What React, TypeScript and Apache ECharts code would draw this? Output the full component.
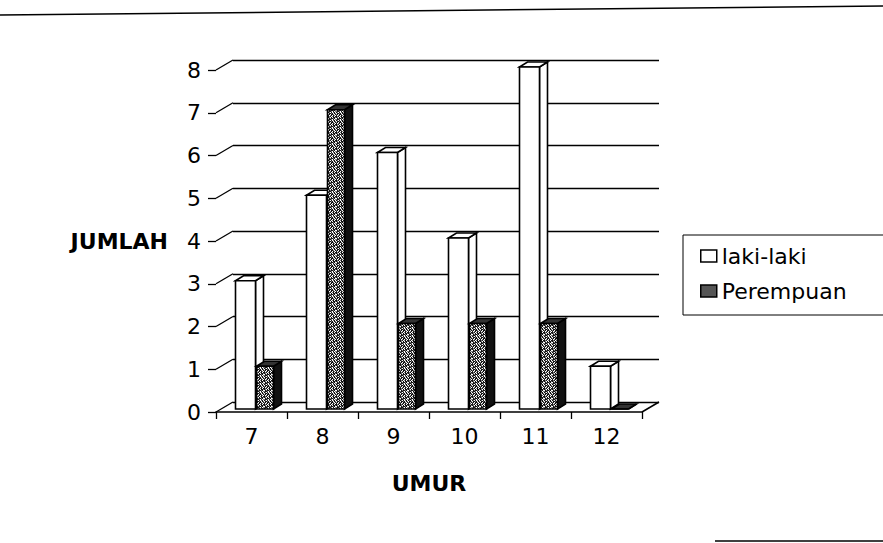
import React, { useEffect, useRef } from "react";
import * as echarts from "echarts";

const CATEGORIES = ["7", "8", "9", "10", "11", "12"];
const LAKI = [3, 5, 6, 4, 8, 1];
const PEREMPUAN = [1, 7, 2, 2, 2, 0];
const Y_TICKS = [0, 1, 2, 3, 4, 5, 6, 7, 8];
const SERIES_NAMES = ["laki-laki", "Perempuan"];
const X_TITLE = "UMUR";
const Y_TITLE = "JUMLAH";

const FONT = "DejaVu Sans";
const DX = 17; // wall depth
const DY = -10;
const BDX = 8; // bar depth
const BDY = -5;
const SHIFT_Y = -3;

function makePattern() {
  const rows = [
    "12010210",
    "01121012",
    "21011201",
    "10210120",
    "12102101",
    "12010112",
    "01211210",
    "21120102",
  ];
  const c = document.createElement("canvas");
  c.width = 8;
  c.height = 8;
  const ctx = c.getContext("2d")!;
  const cols: Record<string, string> = { "0": "#ffffff", "1": "#111111", "2": "#777777" };
  rows.forEach((r, y) => {
    r.split("").forEach((ch, x) => {
      ctx.fillStyle = cols[ch];
      ctx.fillRect(x, y, 1, 1);
    });
  });
  return { image: c.toDataURL(), repeat: "repeat", imageWidth: 8, imageHeight: 8 } as any;
}

export default function App() {
  const ref = useRef<HTMLDivElement>(null);
  useEffect(() => {
    if (!ref.current) return;
    const chart = echarts.init(ref.current, undefined, { renderer: "svg" });
    const pattern = makePattern();

    const barRender = (kind: number) => (params: any, api: any) => {
      const i = api.value(0);
      const v = api.value(1);
      const base = api.coord([i, 0]);
      const top = api.coord([i, v]);
      const cx = base[0];
      const x0 = kind === 0 ? cx - 16 : cx + 5;
      const w = kind === 0 ? 20 : 17;
      const yb = base[1] + SHIFT_Y;
      const yt = top[1] + SHIFT_Y;
      const frontFill = kind === 0 ? "#ffffff" : pattern;
      const sideFill = kind === 0 ? "#ffffff" : "#111111";
      const topFill = kind === 0 ? "#ffffff" : "#333333";
      const stroke = { stroke: "#000", lineWidth: 1.6, lineJoin: "miter" };
      return {
        type: "group",
        children: [
          {
            type: "polygon",
            shape: {
              points: [
                [x0 + w, yt],
                [x0 + w + BDX, yt + BDY],
                [x0 + w + BDX, yb + BDY],
                [x0 + w, yb],
              ],
            },
            style: { fill: sideFill, ...stroke },
          },
          {
            type: "polygon",
            shape: {
              points: [
                [x0, yt],
                [x0 + BDX, yt + BDY],
                [x0 + w + BDX, yt + BDY],
                [x0 + w, yt],
              ],
            },
            style: { fill: topFill, ...stroke },
          },
          {
            type: "rect",
            shape: { x: x0, y: yt, width: w, height: yb - yt },
            style: { fill: frontFill, ...stroke },
          },
        ],
      };
    };

    chart.setOption({
      animation: false,
      backgroundColor: "#ffffff",
      textStyle: { fontFamily: FONT, color: "#000" },
      grid: [
        { left: 216, top: 70, width: 426, height: 342 },
        { left: 216 + DX, top: 70 + DY, width: 426, height: 342 },
      ],
      xAxis: [
        {
          type: "category",
          gridIndex: 0,
          data: CATEGORIES,
          boundaryGap: true,
          axisLine: { lineStyle: { color: "#000", width: 1.6 } },
          axisTick: { show: true, length: 7, lineStyle: { color: "#000", width: 1.3 } },
          axisLabel: { fontSize: 22, color: "#000", margin: 13, fontFamily: FONT },
          name: X_TITLE,
          nameLocation: "middle",
          nameGap: 60,
          nameTextStyle: { fontSize: 22, fontWeight: "bold", color: "#000", fontFamily: FONT },
        },
        {
          type: "category",
          gridIndex: 1,
          data: CATEGORIES,
          show: false,
        },
      ],
      yAxis: [
        {
          type: "value",
          gridIndex: 0,
          min: 0,
          max: 8,
          interval: 1,
          axisLine: { show: false },
          axisTick: { show: true, length: 8, lineStyle: { color: "#000", width: 1.3 } },
          splitLine: { show: false },
          axisLabel: { fontSize: 22, color: "#000", margin: 15, fontFamily: FONT },
          name: Y_TITLE,
          nameLocation: "middle",
          nameRotate: 0,
          nameGap: 48,
          nameTextStyle: {
            fontSize: 22,
            fontWeight: "bold",
            color: "#000",
            align: "right",
            verticalAlign: "middle",
            fontFamily: FONT,
          },
        },
        {
          type: "value",
          gridIndex: 1,
          min: 0,
          max: 8,
          interval: 1,
          axisLine: { show: false },
          axisTick: { show: false },
          axisLabel: { show: false },
          splitLine: { show: true, lineStyle: { color: "#000", width: 1.3 } },
        },
      ],
      legend: {
        orient: "vertical",
        left: 683,
        top: 235,
        padding: [10, 60, 13, 17],
        itemWidth: 16,
        itemHeight: 12,
        itemGap: 13,
        borderColor: "#000",
        borderWidth: 1,
        borderRadius: 0,
        backgroundColor: "#fff",
        selectedMode: false,
        textStyle: { fontSize: 22, color: "#000", fontFamily: FONT },
        data: [
          {
            name: SERIES_NAMES[0],
            icon: "rect",
            itemStyle: { color: "#fff", borderColor: "#000", borderWidth: 1.5 },
          },
          {
            name: SERIES_NAMES[1],
            icon: "rect",
            itemStyle: { color: "#555", borderColor: "#000", borderWidth: 1.5 },
          },
        ],
      },
      series: [
        {
          type: "custom",
          name: "wall-edges",
          xAxisIndex: 0,
          yAxisIndex: 0,
          silent: true,
          z: 1,
          data: Y_TICKS.map((v) => [0, v]),
          encode: { x: 0, y: 1 },
          renderItem: (params: any, api: any) => {
            const p = api.coord([0, api.value(1)]);
            const x0 = params.coordSys.x;
            return {
              type: "line",
              shape: { x1: x0, y1: p[1], x2: x0 + DX, y2: p[1] + DY },
              style: { stroke: "#000", lineWidth: 1.3 },
            };
          },
        },
        {
          type: "custom",
          name: "floor-edge",
          xAxisIndex: 0,
          yAxisIndex: 0,
          silent: true,
          z: 1,
          data: [[CATEGORIES.length - 1, 0]],
          encode: { x: 0, y: 1 },
          renderItem: (params: any, api: any) => {
            const p = api.coord([api.value(0), 0]);
            const x1 = params.coordSys.x + params.coordSys.width;
            return {
              type: "line",
              shape: { x1: x1, y1: p[1], x2: x1 + DX, y2: p[1] + DY },
              style: { stroke: "#000", lineWidth: 1.5 },
            };
          },
        },
        {
          type: "custom",
          name: SERIES_NAMES[0],
          xAxisIndex: 0,
          yAxisIndex: 0,
          z: 3,
          itemStyle: { color: "#fff", borderColor: "#000" },
          data: LAKI.map((v, i) => [i, v]),
          encode: { x: 0, y: 1 },
          renderItem: barRender(0),
        },
        {
          type: "custom",
          name: SERIES_NAMES[1],
          xAxisIndex: 0,
          yAxisIndex: 0,
          z: 4,
          itemStyle: { color: "#555", borderColor: "#000" },
          data: PEREMPUAN.map((v, i) => [i, v]),
          encode: { x: 0, y: 1 },
          renderItem: barRender(1),
        },
      ],
      graphic: [
        {
          type: "line",
          shape: { x1: 0, y1: 15, x2: 883, y2: 6 },
          style: { stroke: "#000", lineWidth: 1.5 },
        },
        {
          type: "line",
          shape: { x1: 715, y1: 541, x2: 883, y2: 541 },
          style: { stroke: "#000", lineWidth: 1.5 },
        },
      ],
    });
    return () => chart.dispose();
  }, []);
  return (
    <div
      ref={ref}
      style={{ position: "fixed", left: 0, top: 0, width: 883, height: 543 }}
    />
  );
}
